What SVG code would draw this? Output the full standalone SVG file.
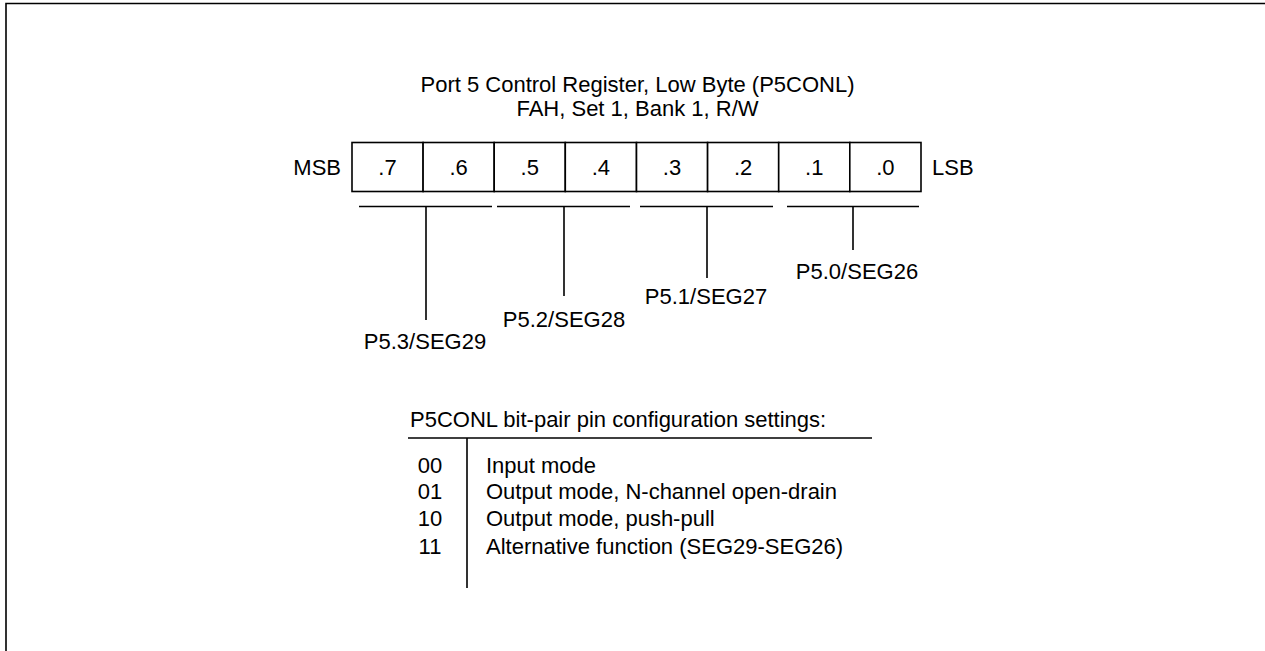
<svg xmlns="http://www.w3.org/2000/svg" width="1265" height="651" viewBox="0 0 1265 651">
<style>
text{font-family:"Liberation Sans",Arial,sans-serif;font-size:22px;fill:#000}
.c{text-anchor:middle}
.ln{stroke:#000;stroke-width:1.6;fill:none}
.cell{fill:#fff;stroke:#000;stroke-width:1.6}
</style>
<rect width="1265" height="651" fill="#fff"/>
<polyline class="ln" points="6,651 6,3.5 1265,3.5" stroke-width="2"/>
<g id="title">
<text class="c" x="637.5" y="92">Port 5 Control Register, Low Byte (P5CONL)</text>
<text class="c" x="637.5" y="116">FAH, Set 1, Bank 1, R/W</text>
</g>
<g id="register">
<text x="341" y="175" text-anchor="end">MSB</text>
<rect class="cell" x="352" y="142.5" width="71.1" height="49"/>
<rect class="cell" x="423.1" y="142.5" width="71.1" height="49"/>
<rect class="cell" x="494.2" y="142.5" width="71.1" height="49"/>
<rect class="cell" x="565.3" y="142.5" width="71.2" height="49"/>
<rect class="cell" x="636.5" y="142.5" width="71.1" height="49"/>
<rect class="cell" x="707.6" y="142.5" width="71.1" height="49"/>
<rect class="cell" x="778.7" y="142.5" width="71.1" height="49"/>
<rect class="cell" x="849.8" y="142.5" width="71.2" height="49"/>
<text class="c" x="387.5" y="175">.7</text>
<text class="c" x="458.6" y="175">.6</text>
<text class="c" x="529.7" y="175">.5</text>
<text class="c" x="600.9" y="175">.4</text>
<text class="c" x="672" y="175">.3</text>
<text class="c" x="743.1" y="175">.2</text>
<text class="c" x="814.3" y="175">.1</text>
<text class="c" x="885.4" y="175">.0</text>
<text x="932" y="175">LSB</text>
</g>
<g id="connectors">
<path class="ln" d="M359,206.5H492M426,206.5V320"/>
<path class="ln" d="M497,206.5H630M564,206.5V296"/>
<path class="ln" d="M640,206.5H773M707,206.5V278"/>
<path class="ln" d="M787,206.5H919M853,206.5V250"/>
</g>
<g id="labels">
<text class="c" x="425" y="349">P5.3/SEG29</text>
<text class="c" x="564" y="327">P5.2/SEG28</text>
<text class="c" x="706" y="304">P5.1/SEG27</text>
<text class="c" x="857" y="279">P5.0/SEG26</text>
</g>
<g id="table">
<text x="410" y="427">P5CONL bit-pair pin configuration settings:</text>
<path class="ln" d="M408,438H872M467,438V588"/>
<text class="c" x="430" y="473">00</text>
<text class="c" x="430" y="499">01</text>
<text class="c" x="430" y="526">10</text>
<text class="c" x="430" y="554">11</text>
<text x="486" y="473">Input mode</text>
<text x="486" y="499">Output mode, N-channel open-drain</text>
<text x="486" y="526">Output mode, push-pull</text>
<text x="486" y="554">Alternative function (SEG29-SEG26)</text>
</g>
</svg>
